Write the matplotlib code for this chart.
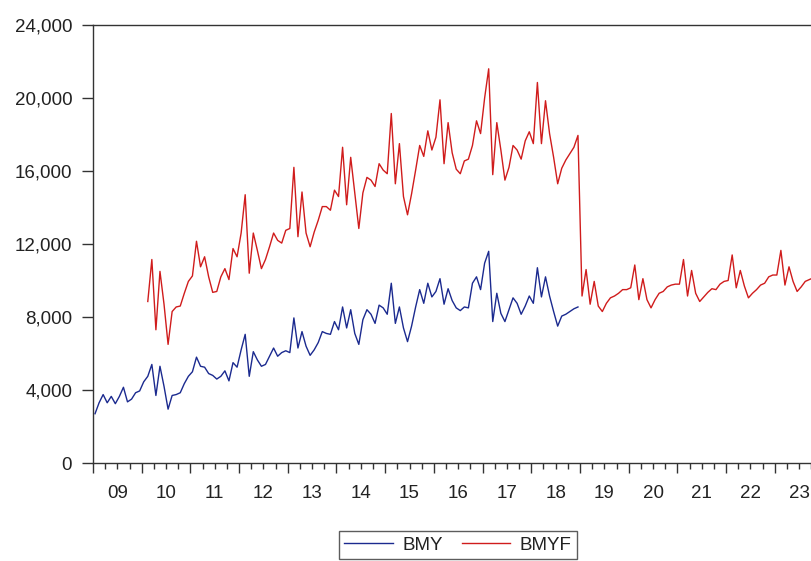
import matplotlib
matplotlib.use('Agg')
import matplotlib.pyplot as plt
import numpy as np
from matplotlib.ticker import FuncFormatter

# ---------------- data ----------------
series_names = ['BMY', 'BMYF']
year_labels = ['09', '10', '11', '12', '13', '14', '15', '16', '17', '18',
               '19', '20', '21', '22', '23']
y_ticks = [0, 4000, 8000, 12000, 16000, 20000, 24000]

# BMY monthly, 2009-01 .. 2018-12
bmy = [
    2700, 3300, 3750, 3300, 3650, 3250, 3650, 4150, 3350, 3500, 3850, 3950,   # 2009
    4450, 4750, 5400, 3700, 5300, 4200, 2950, 3700, 3750, 3850, 4350, 4750,   # 2010
    5000, 5800, 5300, 5250, 4900, 4800, 4600, 4750, 5050, 4500, 5500, 5250,   # 2011
    6200, 7050, 4750, 6100, 5650, 5300, 5400, 5850, 6300, 5850, 6050, 6150,   # 2012
    6050, 7950, 6300, 7200, 6400, 5900, 6200, 6600, 7200, 7100, 7050, 7750,   # 2013
    7300, 8550, 7400, 8400, 7100, 6500, 7850, 8400, 8150, 7650, 8650, 8500,   # 2014
    8150, 9850, 7650, 8550, 7400, 6650, 7500, 8550, 9500, 8750, 9850, 9100,   # 2015
    9400, 10100, 8700, 9550, 8900, 8500, 8350, 8550, 8500, 9850, 10200, 9500, # 2016
    10950, 11600, 7750, 9300, 8200, 7750, 8400, 9050, 8750, 8150, 8600, 9150, # 2017
    8750, 10700, 9100, 10200, 9150, 8300, 7500, 8050, 8150, 8300, 8450, 8550, # 2018
]

# BMYF monthly, 2010-02 .. 2023-12
bmyf = [
    8850, 11150, 7300, 10500, 8700, 6500, 8300, 8550, 8600, 9300, 9950,              # 2010 (Feb-Dec)
    10250, 12150, 10750, 11300, 10200, 9350, 9400, 10200, 10650, 10050, 11750, 11300,  # 2011
    12600, 14700, 10400, 12600, 11650, 10650, 11150, 11850, 12600, 12200, 12050, 12750,  # 2012
    12850, 16200, 12400, 14850, 12600, 11850, 12650, 13300, 14050, 14050, 13850, 14950,  # 2013
    14600, 17300, 14150, 16750, 14800, 12850, 14800, 15650, 15500, 15150, 16400, 16050,  # 2014
    15850, 19150, 15300, 17500, 14600, 13600, 14750, 16050, 17400, 16800, 18200, 17150,  # 2015
    17850, 19900, 16400, 18650, 17000, 16100, 15850, 16550, 16650, 17400, 18750, 18050,  # 2016
    20000, 21600, 15800, 18650, 17150, 15500, 16200, 17400, 17150, 16650, 17650, 18150,  # 2017
    17500, 20850, 17500, 19850, 18050, 16750, 15300, 16150, 16600, 16950, 17300, 17950,  # 2018
    9150, 10600, 8700, 9950, 8600, 8300, 8750, 9050, 9150, 9300, 9500, 9500,             # 2019
    9600, 10850, 8950, 10100, 8950, 8500, 8950, 9300, 9400, 9650, 9750, 9800,            # 2020
    9800, 11150, 9150, 10550, 9300, 8850, 9100, 9350, 9550, 9500, 9800, 9950,            # 2021
    10000, 11400, 9600, 10550, 9700, 9050, 9300, 9500, 9750, 9850, 10200, 10300,         # 2022
    10300, 11650, 9750, 10750, 9950, 9400, 9650, 9950, 10050, 10150, 10200, 10300,       # 2023
]

bmy_start = (2009, 1)
bmyf_start = (2010, 2)
colors = ['#1b2a8f', '#d01c1c']

# ---------------- layout ----------------
plt.rcParams['font.family'] = ['Liberation Sans', 'DejaVu Sans']
W, H = 812, 561
fig = plt.figure(figsize=(W / 100, H / 100), dpi=100)
fig.patch.set_facecolor('white')

year_px = 48.7
left_px, top_px, bot_px = 93, 25, 463
right_px = left_px + 15 * year_px
ax = fig.add_axes([left_px / W, 1 - bot_px / H,
                   (right_px - left_px) / W, (bot_px - top_px) / H])


def month_x(start, n):
    y0, m0 = start
    return y0 + (m0 - 1 + np.arange(n) + 0.5) / 12.0


ax.plot(month_x(bmy_start, len(bmy)), bmy, color=colors[0], lw=1.0,
        label=series_names[0])
ax.plot(month_x(bmyf_start, len(bmyf)), bmyf, color=colors[1], lw=1.0,
        label=series_names[1])

ax.set_xlim(2009, 2024)
ax.set_ylim(0, 24000)

for s in ax.spines.values():
    s.set_color('#333333')
    s.set_linewidth(1.0)

fs = 13.5
ax.set_yticks(y_ticks)
ax.yaxis.set_major_formatter(FuncFormatter(lambda v, p: f'{int(v):,}'))
ax.tick_params(axis='y', direction='out', length=8, width=1, pad=7,
               labelsize=fs, color='#333333', labelcolor='#222222')

ax.set_xticks(np.arange(2009, 2025))
ax.set_xticks(np.arange(2009, 2024.01, 0.25), minor=True)
ax.tick_params(axis='x', which='major', direction='out', length=7, width=1,
               color='#333333', labelbottom=False)
ax.tick_params(axis='x', which='minor', direction='out', length=4, width=1,
               color='#333333')

secax = ax.secondary_xaxis('bottom')
secax.set_xticks(np.arange(2009, 2024) + 0.5, year_labels)
secax.tick_params(length=0, pad=16, labelsize=fs, labelcolor='#222222')
secax.spines['bottom'].set_visible(False)

leg = fig.legend(loc='center', bbox_to_anchor=(458 / W, 1 - 545 / H), ncol=2,
                 frameon=True, fancybox=False, edgecolor='#333333',
                 handlelength=2.6, columnspacing=1.0, handletextpad=0.5,
                 fontsize=fs, borderpad=0.3)
leg.get_frame().set_linewidth(1.0)
for t in leg.get_texts():
    t.set_color('#222222')

fig.savefig('out.png', dpi=100)
